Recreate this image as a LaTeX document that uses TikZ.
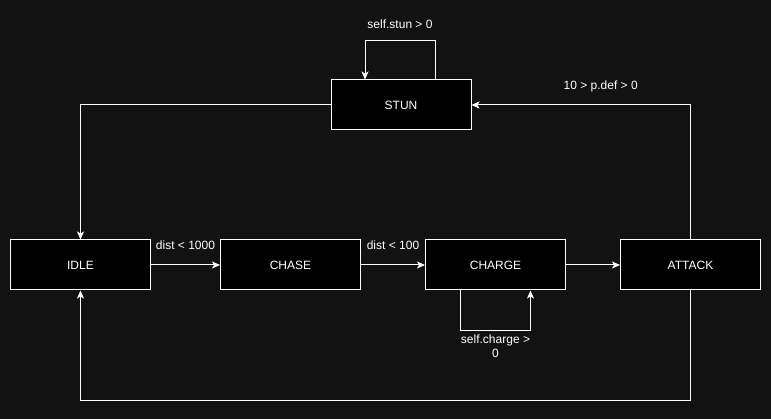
\documentclass[tikz,border=0pt]{standalone}
\usepackage{fontspec}
\setmainfont{Liberation Sans}
\usetikzlibrary{arrows.meta}
\definecolor{canvasBg}{RGB}{18,18,18}

\begin{document}
\begin{tikzpicture}[x=1pt, y=-1pt,
	stateBox/.style={rectangle, fill=black, draw=white, line width=1pt, minimum width=140pt, minimum height=50pt, text=white, font=\fontsize{12}{15}\selectfont},
	edge/.style={-{Stealth[length=8pt, width=7pt, inset=2pt]}, line width=1pt, color=white},
	edgeLabel/.style={text=white, font=\fontsize{12}{14.5}\selectfont, inner sep=0pt}]

		\fill[canvasBg] (0,0) rectangle (771,419);

		\node[stateBox](stunBox) at (401,105){STUN};
		\node[stateBox](idleBox) at (80.5,265){IDLE};
		\node[stateBox](chaseBox) at (290.5,265){CHASE};
		\node[stateBox](chargeBox) at (495.5,265){CHARGE};
		\node[stateBox](attackBox) at (690.5,265){ATTACK};

		\draw [edge] (idleBox.east) -- node[edgeLabel, midway, anchor=base, yshift=15pt]{dist < 1000}(chaseBox.west);
		\draw [edge] (chaseBox.east) -- node[edgeLabel, midway, anchor=base, yshift=15pt]{dist < 100}(chargeBox.west);
		\draw [edge] (chargeBox.east) -- (attackBox.west);

		\draw [edge] (attackBox.north) |- node[edgeLabel, pos=0.705, anchor=base, yshift=15pt]{10 > p.def > 0}(stunBox.east);
		\draw [edge] (stunBox.west) -| (idleBox.north);
		\draw [edge] (attackBox.south) -- ++(0,110) -| (idleBox.south);

		\draw [edge] ([xshift=34pt]stunBox.north) -- ++(0,-39) -| node[edgeLabel, pos=0.25, anchor=base, yshift=12pt]{self.stun > 0}([xshift=-36pt]stunBox.north);
		\draw [edge] ([xshift=-35pt]chargeBox.south) -- ++(0,40) -| node[edgeLabel, pos=0.25, anchor=north, yshift=-3.5pt, align=center]{self.charge >\\0}([xshift=35pt]chargeBox.south);

	\end{tikzpicture}
\end{document}
